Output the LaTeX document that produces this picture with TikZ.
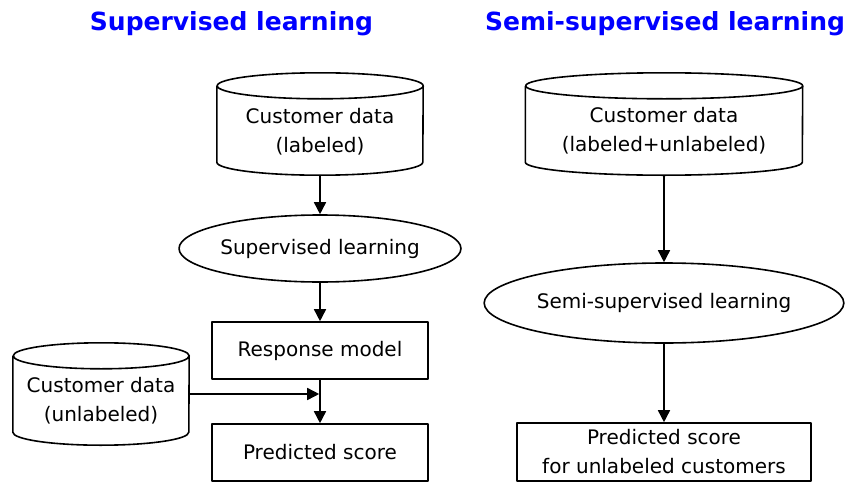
\documentclass[tikz,border=0pt]{standalone}
\usepackage{fontspec}
\setmainfont{DejaVu Sans}
\usetikzlibrary{arrows.meta,positioning,shapes.geometric}

% database drawn round an empty node: name, half width
\newcommand{\drawdb}[2]{%
  \draw[outline] ([yshift=-13pt]#1.north west) -- ([yshift=13pt]#1.south west)
    arc[start angle=180,end angle=360,x radius=#2,y radius=13pt]
    -- ([yshift=-13pt]#1.north east)
    arc[start angle=0,end angle=360,x radius=#2,y radius=13pt];}

\begin{document}
\begin{tikzpicture}[x=1pt,y=-1pt,
  outline/.style={line width=1.6pt,line join=round},
  txt/.style={font=\fontsize{20}{29}\selectfont,align=center,inner sep=0pt},
  title/.style={font=\fontsize{25}{30}\selectfont\bfseries,text=blue,inner sep=0pt,anchor=base},
  dbbox/.style={minimum height=102pt,inner sep=0pt},
  procbox/.style={draw,outline,txt,minimum height=57pt},
  learn/.style={ellipse,draw,outline,txt},
  flow/.style={outline,-{Triangle[length=12pt,width=12pt]}}]
\useasboundingbox (0,0) rectangle (852,482);

\node[title] (titleL) at (231.5,30) {Supervised learning};
\node[title] (titleR) at (665,30) {Semi-supervised learning};

% supervised
\node[dbbox,minimum width=206pt] (dbL) at (320,124) {};
\drawdb{dbL}{103pt}
\node[txt] (dbLtext) at ([yshift=-7.5pt]dbL.center) {Customer data\\(labeled)};
\node[learn,minimum width=236pt,minimum height=67pt] (ellL) at (320,248.5) {Supervised learning};
\node[procbox,minimum width=216pt] (rm) at (320,350.5) {Response model};
\node[procbox,minimum width=216pt] (ps) at (320,452.5) {Predicted score};
\node[dbbox,minimum width=176pt] (dbU) at (101,394) {};
\drawdb{dbU}{88pt}
\node[txt] (dbUtext) at ([yshift=-7pt]dbU.center) {Customer data\\(unlabeled)};
\coordinate (join) at (dbU.east -| rm.south);

\draw[flow] (dbL) -- (ellL);
\draw[flow] (ellL) -- (rm);
\draw[flow] (rm) -- (ps);
\draw[flow] (dbU.east) -- ([xshift=-0.8pt]join);

% semi-supervised
\node[dbbox,minimum width=277pt] (dbR) at (664,124) {};
\drawdb{dbR}{138.5pt}
\node[txt] (dbRtext) at ([yshift=-7pt]dbR.center) {Customer data\\(labeled+unlabeled)};
\node[learn,minimum width=293pt,minimum height=80pt] (ellR) at (664,303) {Semi-supervised learning};
\node[procbox,minimum width=294pt,minimum height=58pt] (psR) at (664,452) {Predicted score\\for unlabeled customers};

\draw[flow] (dbR) -- (ellR);
\draw[flow] (ellR) -- (psR);
\end{tikzpicture}
\end{document}
